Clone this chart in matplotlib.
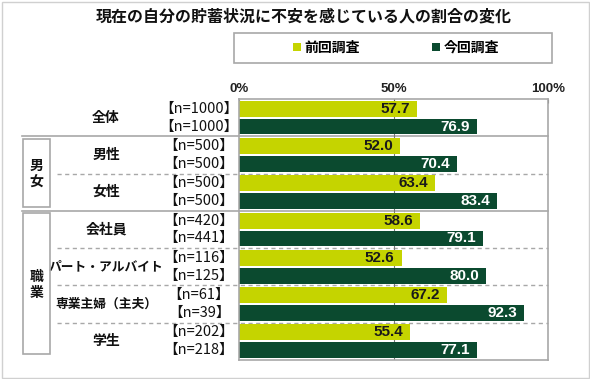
import matplotlib
matplotlib.use("Agg")
import matplotlib.pyplot as plt
from matplotlib.patches import Rectangle, Patch

plt.rcParams['font.family'] = ['Noto Sans CJK JP', 'DejaVu Sans']

title = "現在の自分の貯蓄状況に不安を感じている人の割合の変化"
categories = ["全体", "男性", "女性", "会社員", "パート・アルバイト", "専業主婦（主夫）", "学生"]
prev_values = [57.7, 52.0, 63.4, 58.6, 52.6, 67.2, 55.4]
curr_values = [76.9, 70.4, 83.4, 79.1, 80.0, 92.3, 77.1]
prev_n = [1000, 500, 500, 420, 116, 61, 202]
curr_n = [1000, 500, 500, 441, 125, 39, 218]
series_names = ["前回調査", "今回調査"]
xticks = [0, 50, 100]
xtick_labels = ["0%", "50%", "100%"]

LIGHT = "#c5d400"
DARK = "#0b4a2f"
GRID = "#a8a8a8"

W, H = 590, 379
fig = plt.figure(figsize=(W / 100, H / 100), dpi=100)

def fx(px):
    return px / W

def fy(py):
    return 1 - py / H

ax_l, ax_r, ax_t, ax_b = 239, 548, 99, 360
ax = fig.add_axes([fx(ax_l), fy(ax_b), fx(ax_r) - fx(ax_l), fy(ax_t) - fy(ax_b)])

n = len(categories)
ys = list(range(n))
prev_y = [y - 0.24 for y in ys]
curr_y = [y + 0.24 for y in ys]
ax.barh(prev_y, prev_values, height=0.43, color=LIGHT, zorder=2)
ax.barh(curr_y, curr_values, height=0.42, color=DARK, zorder=2)

ax.set_xlim(0, 100)
ax.set_ylim(n - 0.5, -0.5)
ax.set_yticks([])
ax.xaxis.tick_top()
ax.set_xticks(xticks)
ax.set_xticklabels(xtick_labels, fontfamily='Liberation Sans', fontweight='bold',
                   fontsize=9.5, color='#222222')
ax.tick_params(axis='x', length=3, width=0.8, color='#666666', pad=3, direction='in')
for s in ax.spines.values():
    s.set_color(GRID)
    s.set_linewidth(1.2)

# 50% reference line (behind bars)
ax.axvline(50, color='#777777', lw=0.8, zorder=1.5)

# value labels
for y, v in zip(prev_y, prev_values):
    ax.annotate(f"{v:.1f}", (v, y), xytext=(-5, 0), textcoords='offset points',
                ha='right', va='center', fontsize=11, fontweight='bold',
                fontfamily='Liberation Sans', color='#1a1a1a', zorder=4)
for y, v in zip(curr_y, curr_values):
    ax.annotate(f"{v:.1f}", (v, y), xytext=(-5, 0), textcoords='offset points',
                ha='right', va='center', fontsize=11, fontweight='bold',
                fontfamily='Liberation Sans', color='white', zorder=4)

tr = ax.get_yaxis_transform()

def axfrac(px):
    return (px - ax_l) / (ax_r - ax_l)

solid_after = [0, 2]
dashed_after = [1, 3, 4, 5]
for i in solid_after:
    ax.plot([axfrac(22), 1], [i + 0.5, i + 0.5], transform=tr, color=GRID, lw=1.2,
            clip_on=False, zorder=1)
for i in dashed_after:
    ax.plot([axfrac(57), 1], [i + 0.5, i + 0.5], transform=tr, color=GRID, lw=1.0,
            ls=(0, (3, 2.5)), clip_on=False, zorder=1)

# category labels and n labels
for i, c in enumerate(categories):
    fs = 10 if len(c) <= 3 else 9.2
    ax.text(axfrac(106), i, c, transform=tr, ha='center', va='center',
            fontsize=fs, fontweight='bold', color='#111111')
for y, v in zip(prev_y, prev_n):
    ax.text(axfrac(199), y, f"【n={v}】", transform=tr, ha='center', va='center',
            fontsize=10.5, color='#111111')
for y, v in zip(curr_y, curr_n):
    ax.text(axfrac(199), y, f"【n={v}】", transform=tr, ha='center', va='center',
            fontsize=10.5, color='#111111')

# group boxes on the left
fig.patches.append(Rectangle((fx(23), fy(207)), fx(50) - fx(23), fy(139) - fy(207),
                             transform=fig.transFigure, fill=False, edgecolor=GRID, lw=1.2))
fig.patches.append(Rectangle((fx(23), fy(354)), fx(50) - fx(23), fy(213) - fy(354),
                             transform=fig.transFigure, fill=False, edgecolor=GRID, lw=1.2))
fig.text(fx(36.5), fy(174), "男\n女", ha='center', va='center', fontsize=10,
         fontweight='bold', linespacing=1.1, color='#111111')
fig.text(fx(36.5), fy(285), "職\n業", ha='center', va='center', fontsize=10,
         fontweight='bold', linespacing=1.1, color='#111111')

# title
fig.text(fx(304), fy(16), title, ha='center', va='center', fontsize=11.5,
         fontweight='bold', color='#111111')

# legend box
fig.patches.append(Rectangle((fx(234), fy(63)), fx(552) - fx(234), fy(33) - fy(63),
                             transform=fig.transFigure, fill=True, facecolor='white',
                             edgecolor=GRID, lw=1.2))
handles = [Patch(facecolor=LIGHT, edgecolor='none'), Patch(facecolor=DARK, edgecolor='none')]
fig.legend(handles, series_names, loc='center', bbox_to_anchor=(fx(396), fy(48)),
           ncol=2, frameon=False, handlelength=0.55, handleheight=0.55,
           handletextpad=0.25, columnspacing=5.2,
           prop={'family': ['Noto Sans CJK JP'], 'weight': 'bold', 'size': 10})

# outer figure border
fig.patches.append(Rectangle((fx(1.5), fy(377.5)), fx(588.5) - fx(1.5), fy(1.5) - fy(377.5),
                             transform=fig.transFigure, fill=False, edgecolor='#d0d0d0', lw=1.0))

fig.savefig("out.png", dpi=100)
